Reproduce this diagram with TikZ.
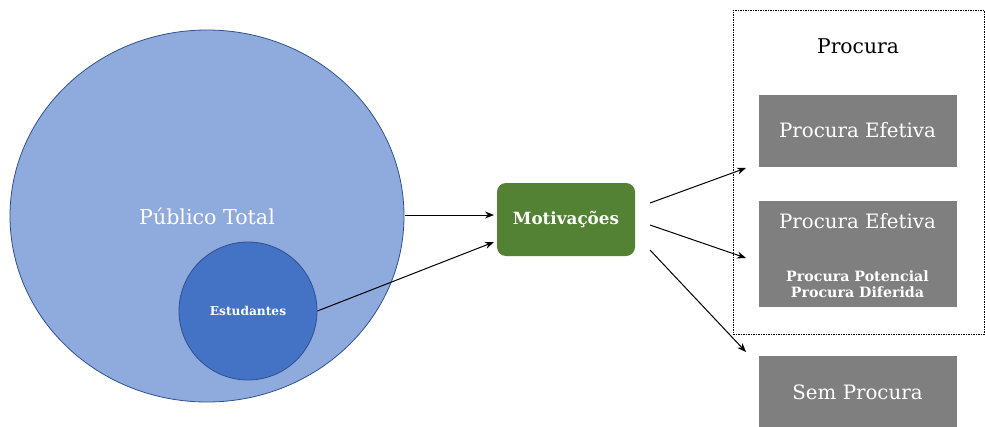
\documentclass[tikz,border=0pt]{standalone}
\usepackage{fontspec}
\setmainfont{DejaVu Serif}
\usetikzlibrary{arrows.meta}
\definecolor{bigblue}{HTML}{8FAADC}
\definecolor{smallblue}{HTML}{4472C4}
\definecolor{edgeblue}{HTML}{2F528F}
\definecolor{motgreen}{HTML}{548235}
\definecolor{boxgray}{HTML}{7F7F7F}
\begin{document}
\begin{tikzpicture}[x=1pt,y=-1pt,
  conn/.style={draw=black,line width=1pt,-{Stealth[length=9pt,width=7pt]}},
  graybox/.style={fill=boxgray,draw=white,line width=0.5pt,text=white,minimum width=199pt,inner sep=0pt},
  lbl/.style={text=white,font=\fontsize{19.8}{23}\selectfont}
]
\useasboundingbox (0,0) rectangle (985,426);
% big ellipse
\fill[bigblue,draw=edgeblue,line width=0.8pt] (207,216) ellipse [x radius=197, y radius=186];
\node[text=white,font=\fontsize{20.6}{24}\selectfont] (pub) at (207,216) {Público Total};
\coordinate (pubR) at (405,215);
% small circle
\node[circle,fill=smallblue,draw=edgeblue,line width=0.8pt,minimum size=138pt,inner sep=0pt,text=white,font=\bfseries\fontsize{12.2}{14}\selectfont] (est) at (248,311) {Estudantes};
% motivacoes
\node[rounded corners=9pt,fill=motgreen,minimum width=138pt,minimum height=73pt,text=white,font=\bfseries\fontsize{16.8}{20}\selectfont] (mot) at (566,219.5) {Motivações};
% dashed box
\node[draw=black,dashed,dash pattern=on 1.5pt off 1pt,line width=0.7pt,minimum width=251pt,minimum height=324pt,inner sep=0pt] (proc) at (858.5,172) {};
\node[font=\fontsize{20.3}{24}\selectfont] (proct) at (858,46) {Procura};
% gray boxes
\node[graybox,minimum height=73pt,lbl] (b1) at (857.5,130.5) {Procura Efetiva};
\node[graybox,minimum height=107pt] (b2) at (857.5,253.5) {};
\node[lbl] (b2a) at (857.5,221) {Procura Efetiva};
\node[text=white,font=\bfseries\fontsize{14.2}{16}\selectfont,align=center] (b2b) at (857.5,284) {Procura Potencial\\[0pt]Procura Diferida};
\node[graybox,minimum height=73pt,lbl] (b3) at (857.5,392) {Sem Procura};
% arrows
\coordinate (m1) at (650,203);
\coordinate (m2) at (650,225);
\coordinate (m3) at (650,250);
\coordinate (t1) at (746,168);
\coordinate (t2) at (746,258);
\coordinate (t3) at (746,352);
\coordinate (mi1) at (494,215);
\coordinate (mi2) at (494,242);
\draw[conn] (pubR) -- (mi1);
\draw[conn] (est.east) -- (mi2);
\draw[conn] (m1) -- (t1);
\draw[conn] (m2) -- (t2);
\draw[conn] (m3) -- (t3);
\end{tikzpicture}
\end{document}
